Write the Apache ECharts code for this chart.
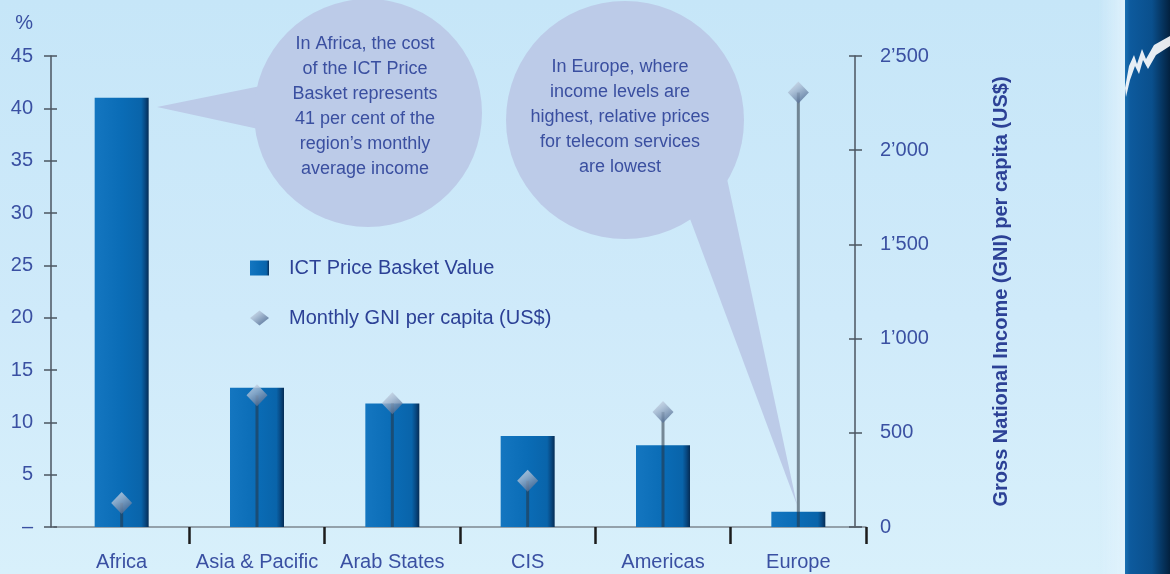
<!DOCTYPE html>
<html>
<head>
<meta charset="utf-8">
<script src="https://cdn.jsdelivr.net/npm/echarts@6/dist/echarts.min.js"></script>
<style>
  html, body { margin: 0; padding: 0; }
  #myChart {
    width: 1170px;
    height: 574px;
    background: linear-gradient(180deg, #c6e6f8 0%, #cfeafa 55%, #d8f0fb 100%);
  }
</style>
</head>
<body>
<div id="myChart"></div>
<script>
const regions = ['Africa', 'Asia & Pacific', 'Arab States', 'CIS', 'Americas', 'Europe'];
// ICT Price Basket, % of monthly GNI per capita (left axis)
const basketValues = [41, 13.3, 11.8, 8.7, 7.8, 1.45];
// monthly GNI per capita, US$ (right axis)
const gniValues = [128, 699, 657, 245, 611, 2306];

const percentTicks = [0, 5, 10, 15, 20, 25, 30, 35, 40, 45];
const gniTicks = [0, 500, 1000, 1500, 2000, 2500];

const FONT = "'Liberation Sans', Arial, sans-serif";
const labelColor = '#3a50a2';
const darkText = '#2c4196';
const bubbleColor = '#bccbe8';

const fmtGni = (v) => {
  if (v < 1000) return String(v);
  return Math.floor(v / 1000) + '\u2019' + String(v % 1000).padStart(3, '0');
};

const myChart = echarts.init(document.getElementById('myChart'));

const tickAxis = (pos, offset, min, max, step) => ({
  type: 'value',
  position: pos,
  offset: offset,
  min: min,
  max: max,
  interval: step,
  axisLine: { show: false },
  axisLabel: { show: false },
  splitLine: { show: false },
  axisTick: { show: true, inside: true, length: 6, lineStyle: { color: '#4b5560', width: 1.5 } }
});

const diamondFill = new echarts.graphic.LinearGradient(0, 0, 0.6, 1, [
  { offset: 0, color: '#dde6f0' },
  { offset: 0.45, color: '#a3b6ce' },
  { offset: 1, color: '#4e6990' }
]);

const option = {
  animation: false,
  textStyle: { fontFamily: FONT },
  grid: { left: 54, right: 304, top: 56, bottom: 47 },
  legend: {
    orient: 'vertical',
    left: 245,
    top: 253,
    itemWidth: 19,
    itemHeight: 15,
    itemGap: 30,
    selectedMode: false,
    textStyle: { fontSize: 20, color: darkText, fontFamily: FONT, padding: [0, 0, 0, 15] },
    data: [
      { name: 'ICT Price Basket Value', icon: 'rect' },
      { name: 'Monthly GNI per capita (US$)', icon: 'diamond' }
    ]
  },
  xAxis: [
    {
      type: 'category',
      data: regions,
      axisLine: { lineStyle: { color: '#7d8891', width: 1.5 } },
      axisTick: {
        show: true, length: 17, interval: (idx) => idx > 0,
        lineStyle: { color: '#1c1c1c', width: 2.5 }
      },
      axisLabel: { fontSize: 20, color: labelColor, margin: 25, fontFamily: FONT, interval: 0 }
    },
    {
      // hidden twin axis so the thin stems sit centred on their own
      type: 'category',
      data: regions,
      show: false
    }
  ],
  yAxis: [
    {
      type: 'value',
      position: 'left',
      offset: 3,
      min: percentTicks[0],
      max: percentTicks[percentTicks.length - 1],
      interval: percentTicks[1] - percentTicks[0],
      name: '%',
      nameLocation: 'end',
      nameGap: 23,
      nameTextStyle: { fontSize: 20, color: labelColor, align: 'right', padding: [0, 18, 0, 0], fontFamily: FONT },
      axisLine: { show: true, lineStyle: { color: '#4b5560', width: 1.5 } },
      axisTick: { show: true, length: 7, lineStyle: { color: '#4b5560', width: 1.5 } },
      axisLabel: {
        fontSize: 20, color: labelColor, margin: 18, fontFamily: FONT,
        formatter: (v) => (v === 0 ? '\u2013' : v)
      },
      splitLine: { show: false }
    },
    {
      type: 'value',
      position: 'right',
      offset: -11,
      min: gniTicks[0],
      max: gniTicks[gniTicks.length - 1],
      interval: gniTicks[1] - gniTicks[0],
      name: 'Gross National Income (GNI) per capita (US$)',
      nameLocation: 'middle',
      nameRotate: 90,
      nameGap: 136,
      nameTextStyle: { fontSize: 20, fontWeight: 'bold', color: darkText, fontFamily: FONT },
      axisLine: { show: true, lineStyle: { color: '#4b5560', width: 1.5 } },
      axisTick: { show: true, length: 7, lineStyle: { color: '#4b5560', width: 1.5 } },
      axisLabel: { fontSize: 20, color: labelColor, margin: 25, fontFamily: FONT, formatter: fmtGni },
      splitLine: { show: false }
    },
    tickAxis('left', 3, percentTicks[0], percentTicks[percentTicks.length - 1], percentTicks[1] - percentTicks[0]),
    tickAxis('right', -11, gniTicks[0], gniTicks[gniTicks.length - 1], gniTicks[1] - gniTicks[0])
  ],
  series: [
    {
      name: 'ICT Price Basket Value',
      type: 'bar',
      xAxisIndex: 0,
      yAxisIndex: 0,
      barWidth: 54,
      z: 2,
      itemStyle: {
        color: new echarts.graphic.LinearGradient(0, 0, 1, 0, [
          { offset: 0, color: '#1476c0' },
          { offset: 0.5, color: '#0a6cb6' },
          { offset: 0.86, color: '#0964aa' },
          { offset: 0.93, color: '#084a84' },
          { offset: 1, color: '#052c55' }
        ])
      },
      data: basketValues
    },
    {
      name: 'stem',
      type: 'bar',
      xAxisIndex: 1,
      yAxisIndex: 1,
      barWidth: 3,
      z: 3,
      silent: true,
      itemStyle: { color: 'rgba(40, 52, 66, 0.55)' },
      data: gniValues
    },
    {
      name: 'Monthly GNI per capita (US$)',
      type: 'scatter',
      xAxisIndex: 0,
      yAxisIndex: 1,
      symbol: 'diamond',
      symbolSize: [21, 22],
      z: 4,
      itemStyle: { color: diamondFill },
      data: gniValues
    }
  ],
  graphic: [
    // right-hand brand strip
    {
      type: 'rect',
      z: 0,
      shape: { x: 1098, y: 0, width: 28, height: 574 },
      style: {
        fill: new echarts.graphic.LinearGradient(0, 0, 1, 0, [
          { offset: 0, color: 'rgba(225,242,252,0)' },
          { offset: 1, color: 'rgba(225,242,252,0.9)' }
        ])
      }
    },
    {
      type: 'rect',
      z: 0,
      shape: { x: 1125, y: 0, width: 45, height: 574 },
      style: {
        fill: new echarts.graphic.LinearGradient(0, 0, 1, 0, [
          { offset: 0, color: '#1a70b2' },
          { offset: 0.12, color: '#0d5a9d' },
          { offset: 0.6, color: '#0a4f8c' },
          { offset: 1, color: '#03213f' }
        ])
      }
    },
    {
      type: 'polygon',
      z: 1,
      shape: {
        points: [[1125, 88], [1129, 66], [1134, 55], [1137, 64], [1142, 49], [1146, 59], [1154, 45], [1170, 36],
                 [1170, 46], [1156, 55], [1148, 69], [1143, 60], [1139, 74], [1135, 66], [1130, 80], [1126, 97]]
      },
      style: { fill: '#ffffff', opacity: 0.9 }
    },
    // Africa speech bubble
    {
      type: 'polygon',
      z: 0,
      shape: { points: [[157, 107], [300, 78], [300, 138]] },
      style: { fill: bubbleColor }
    },
    {
      type: 'circle',
      z: 0,
      shape: { cx: 368, cy: 113, r: 114 },
      style: { fill: bubbleColor }
    },
    {
      type: 'text',
      z: 1,
      style: {
        x: 365, y: 32,
        text: 'In Africa, the cost\nof the ICT Price\nBasket represents\n41 per cent of the\nregion\u2019s monthly\naverage income',
        align: 'center',
        verticalAlign: 'top',
        font: '18px ' + FONT,
        lineHeight: 25,
        fill: '#3a4fa0'
      }
    },
    // Europe speech bubble
    {
      type: 'polygon',
      z: 0,
      shape: { points: [[668, 160], [723, 160], [797, 505]] },
      style: { fill: bubbleColor }
    },
    {
      type: 'circle',
      z: 0,
      shape: { cx: 625, cy: 120, r: 119 },
      style: { fill: bubbleColor }
    },
    {
      type: 'text',
      z: 1,
      style: {
        x: 620, y: 55,
        text: 'In Europe, where\nincome levels are\nhighest, relative prices\nfor telecom services\nare lowest',
        align: 'center',
        verticalAlign: 'top',
        font: '18px ' + FONT,
        lineHeight: 25,
        fill: '#3a4fa0'
      }
    }
  ]
};

option && myChart.setOption(option);
</script>
</body>
</html>
